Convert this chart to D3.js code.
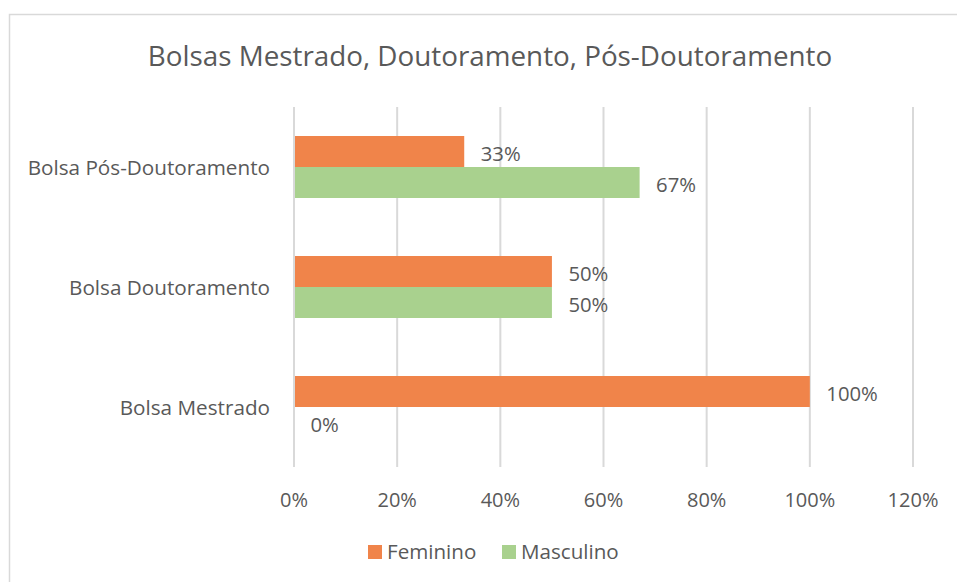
<!DOCTYPE html>
<html>
<head>
<meta charset="utf-8">
<script src="https://cdn.jsdelivr.net/npm/d3@7"></script>
<style>
  body { margin: 0; background: #fff; }
  text { font-family: "Open Sans", sans-serif; fill: #595959; }
</style>
</head>
<body>
<div id="chart"></div>
<script>
var width = 957
var height = 582

var categories = ["Bolsa Pós-Doutoramento", "Bolsa Doutoramento", "Bolsa Mestrado"]
var series = ["Feminino", "Masculino"]
var feminino = [0.33, 0.50, 1.00]
var masculino = [0.67, 0.50, 0.00]
var xTicks = [0, 0.2, 0.4, 0.6, 0.8, 1.0, 1.2]
var colors = ["#F0844A", "#A9D18E"]

var svg = d3.select("#chart").append("svg")
    .attr("width", width)
    .attr("height", height);

// chart frame
svg.append("rect")
    .attr("x", 9.5).attr("y", 14.5)
    .attr("width", 960).attr("height", 600)
    .attr("fill", "none")
    .attr("stroke", "#D9D9D9")
    .attr("stroke-width", 1.5);

var x = d3.scaleLinear().domain([0, 1.2]).range([294, 913]);
var y = d3.scaleBand().domain(categories).range([107, 467]);
var inner = d3.scaleBand().domain(series).range([y.bandwidth() / 2 - 31, y.bandwidth() / 2 + 31]);

// gridlines
svg.append("g").selectAll("line")
    .data(xTicks)
    .enter().append("line")
    .attr("x1", function(d) { return x(d); })
    .attr("x2", function(d) { return x(d); })
    .attr("y1", 107).attr("y2", 467)
    .attr("stroke", "#D9D9D9")
    .attr("stroke-width", 2);

// tick labels
svg.append("g").selectAll("text")
    .data(xTicks)
    .enter().append("text")
    .attr("x", function(d) { return x(d); })
    .attr("y", 507)
    .attr("text-anchor", "middle")
    .attr("font-size", "20px")
    .text(function(d) { return d3.format(".0%")(d); });

// category labels
svg.append("g").selectAll("text")
    .data(categories)
    .enter().append("text")
    .attr("x", 270)
    .attr("y", function(d) { return y(d) + y.bandwidth() / 2 + 7.5; })
    .attr("text-anchor", "end")
    .attr("font-size", "20.7px")
    .text(function(d) { return d; });

var rows = []
categories.forEach(function(c, i) {
    rows.push({cat: c, s: "Feminino", v: feminino[i], k: 0});
    rows.push({cat: c, s: "Masculino", v: masculino[i], k: 1});
});

svg.append("g").selectAll("rect")
    .data(rows)
    .enter().append("rect")
    .attr("x", x(0) + 1)
    .attr("y", function(d) { return y(d.cat) + inner(d.s); })
    .attr("width", function(d) { return Math.max(0, x(d.v) - x(0) - 1); })
    .attr("height", inner.bandwidth())
    .attr("fill", function(d) { return colors[d.k]; });

svg.append("g").selectAll("text")
    .data(rows)
    .enter().append("text")
    .attr("x", function(d) { return x(d.v) + 16.5; })
    .attr("y", function(d) { return y(d.cat) + inner(d.s) + inner.bandwidth() / 2 + 9; })
    .attr("font-size", "20.3px")
    .text(function(d) { return d3.format(".0%")(d.v); });

// title
svg.append("text")
    .attr("x", 490)
    .attr("y", 66)
    .attr("text-anchor", "middle")
    .attr("font-size", "27.8px")
    .text("Bolsas Mestrado, Doutoramento, Pós-Doutoramento");

// legend
var legend = svg.append("g");
var legX = [368, 502];
series.forEach(function(s, i) {
    legend.append("rect")
        .attr("x", legX[i]).attr("y", 545)
        .attr("width", 14).attr("height", 14)
        .attr("fill", colors[i]);
    legend.append("text")
        .attr("x", legX[i] + 19).attr("y", 559)
        .attr("font-size", "20.6px")
        .text(s);
});
</script>
</body>
</html>
